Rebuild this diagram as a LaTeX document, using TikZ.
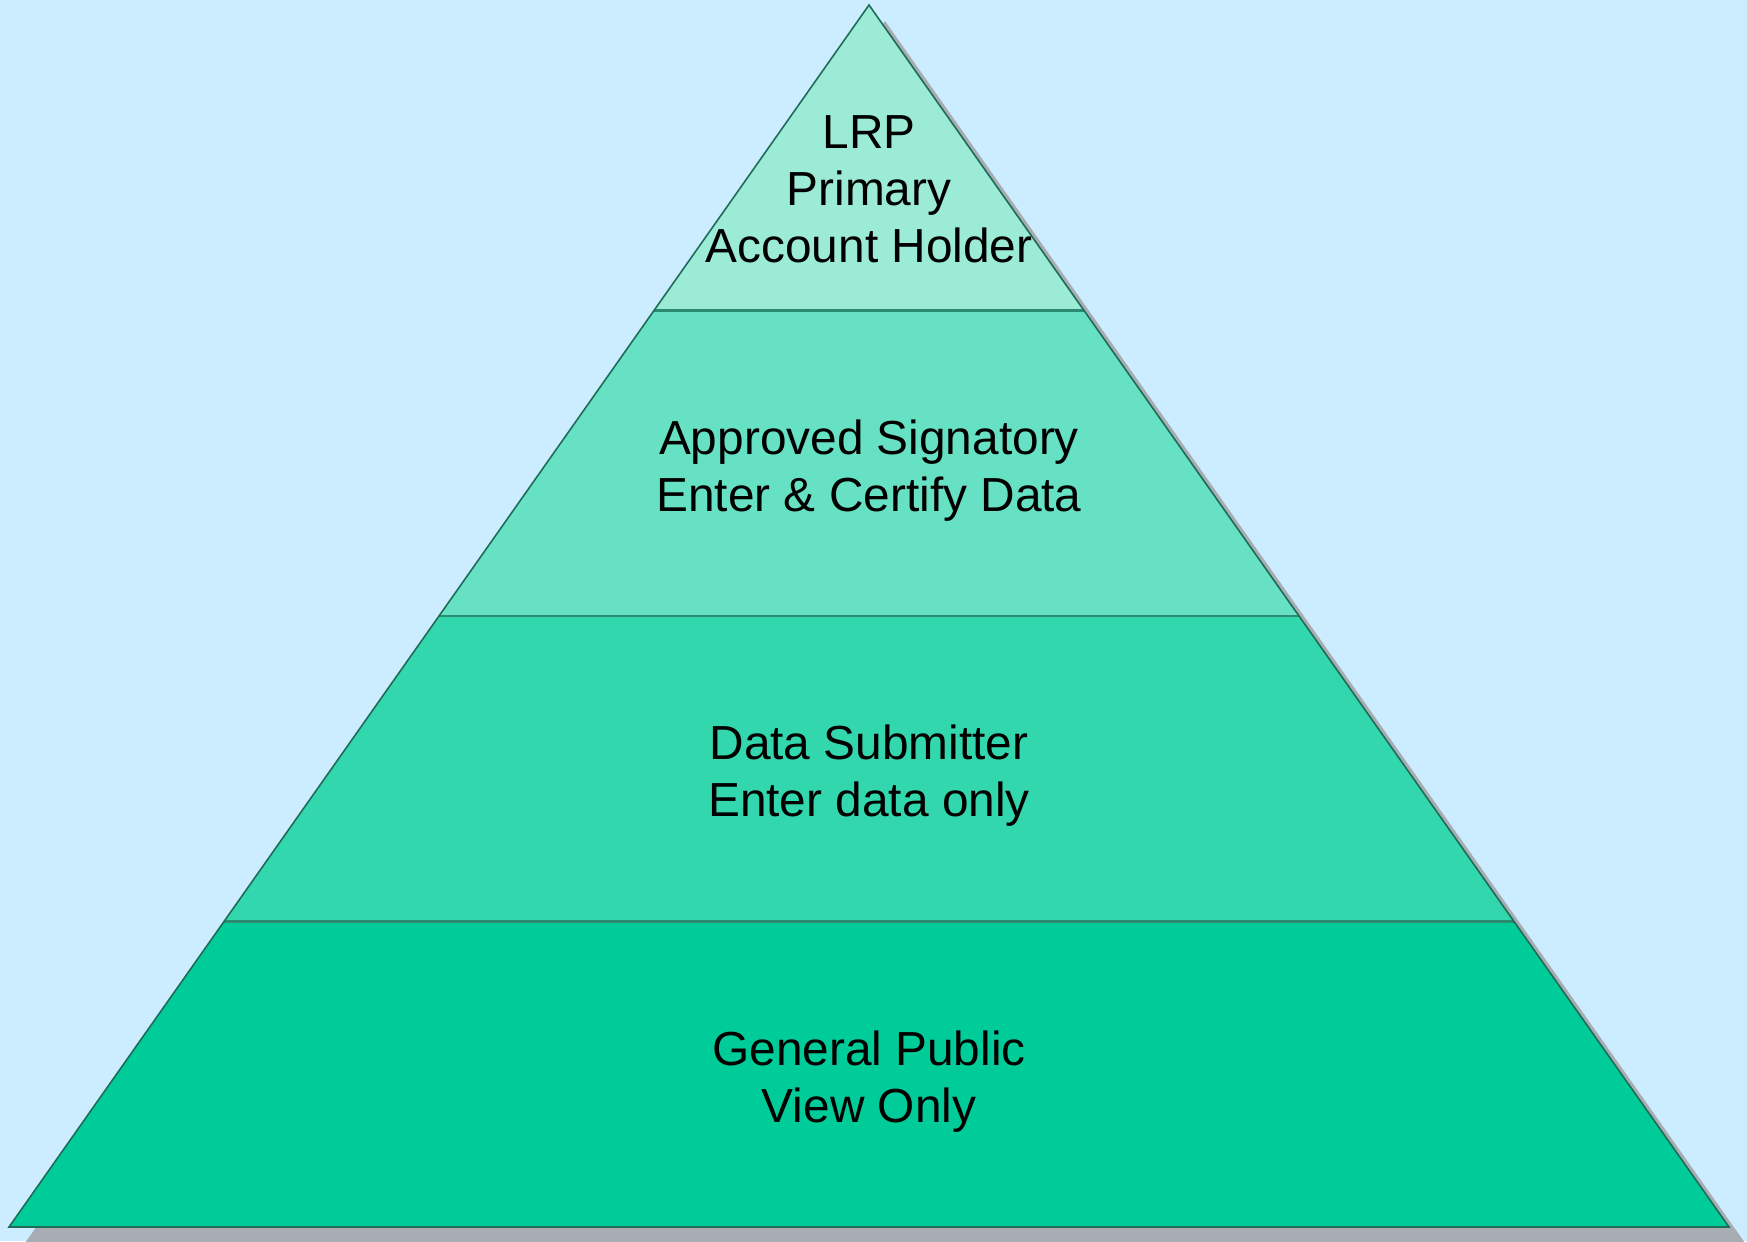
\documentclass[tikz,border=0pt]{standalone}
\usepackage{fontspec}
\setmainfont{Liberation Sans}
\usetikzlibrary{calc, positioning}
\definecolor{skyback}{HTML}{CCECFF}
\definecolor{shadowgray}{HTML}{A8ADB4}
\definecolor{tierA}{HTML}{9CEBD7}
\definecolor{tierB}{HTML}{66E1C3}
\definecolor{tierC}{HTML}{33D7AE}
\definecolor{tierD}{HTML}{00CC99}
\definecolor{tierline}{HTML}{1E6B57}
\definecolor{divline}{HTML}{2C8A70}
\tikzset{
  outline/.style={draw=tierline, line width=0.45pt, line join=miter},
  divider/.style={draw=divline, line width=0.8pt},
  tiertext/.style={align=center, inner sep=0pt, font=\fontsize{13.6}{16.2}\selectfont}
}

\begin{document}
\begin{tikzpicture}
  % Background
  \fill[skyback] (0,0) rectangle (17.47,12.41);
  \useasboundingbox (0,0) rectangle (17.47,12.41);

  % Corners and tier edges
  \coordinate (apex) at (8.69,12.36);
  \coordinate (bl) at (0.09,0.14);
  \coordinate (br) at (17.29,0.14);
  \coordinate (l1) at ($(bl)!0.25!(apex)$);
  \coordinate (r1) at ($(br)!0.25!(apex)$);
  \coordinate (l2) at ($(bl)!0.5!(apex)$);
  \coordinate (r2) at ($(br)!0.5!(apex)$);
  \coordinate (l3) at ($(bl)!0.75!(apex)$);
  \coordinate (r3) at ($(br)!0.75!(apex)$);

  % Shadow
  \fill[shadowgray] ($(apex)+(0.16,-0.16)$) -- ($(bl)+(0.16,-0.16)$) -- ($(br)+(0.16,-0.16)$) -- cycle;

  % Tiers
  \fill[tierD] (bl) -- (br) -- (r1) -- (l1) -- cycle;
  \fill[tierC] (l1) -- (r1) -- (r2) -- (l2) -- cycle;
  \fill[tierB] (l2) -- (r2) -- (r3) -- (l3) -- cycle;
  \fill[tierA] (l3) -- (r3) -- (apex) -- cycle;
  \draw[divider] (l1) -- (r1);
  \draw[divider] (l2) -- (r2);
  \draw[divider] (l3) -- (r3);
  \draw[outline] (apex) -- (bl) -- (br) -- cycle;

  % Labels
  \node[tiertext] (lrp) at (8.69,10.52) {LRP\\Primary\\Account Holder};
  \node[tiertext] (signatory) at (8.69,7.70) {Approved Signatory\\Enter \& Certify Data};
  \node[tiertext] (submitter) at (8.69,4.65) {Data Submitter\\Enter data only};
  \node[tiertext] (public) at (8.69,1.59) {General Public\\View Only};
\end{tikzpicture}
\end{document}
